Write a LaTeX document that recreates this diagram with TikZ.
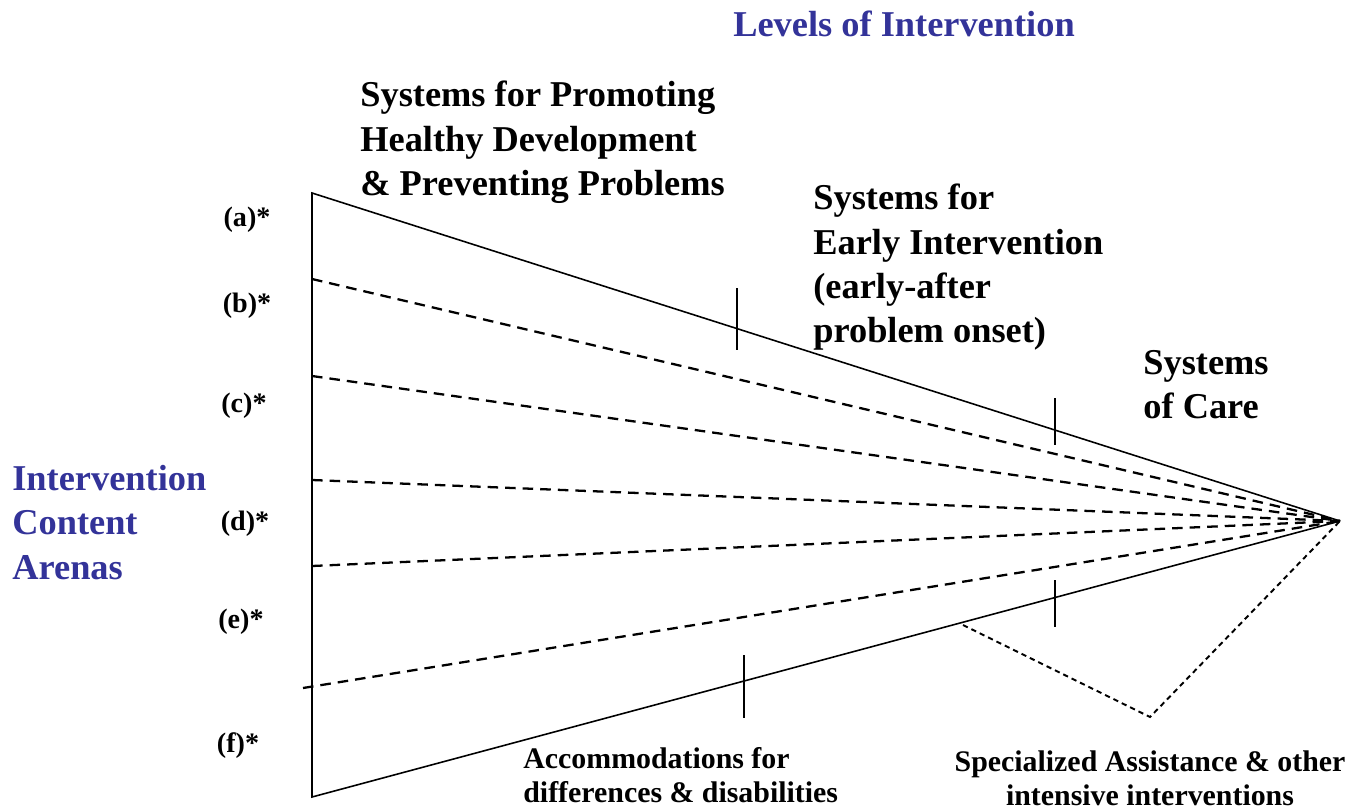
\documentclass[tikz,border=0pt]{standalone}
\usepackage{fontspec}
\setmainfont{Liberation Serif}
\usetikzlibrary{positioning}
\definecolor{arenaBlue}{RGB}{51,51,153}
\tikzstyle{levelText} = [font=\fontsize{20.7}{25.2}\selectfont\bfseries, align=left, anchor=north west, inner sep=0pt]
\tikzstyle{blueText} = [levelText, text=arenaBlue]
\tikzstyle{arenaLabel} = [font=\fontsize{16}{19}\selectfont\bfseries, inner sep=0pt]
\tikzstyle{noteText} = [font=\fontsize{17}{19.5}\selectfont\bfseries, align=center, anchor=north, inner sep=0pt]
\tikzstyle{edge} = [line width=0.9pt]
\tikzstyle{arenaLine} = [line width=1.3pt, dash pattern=on 6pt off 4pt]
\tikzstyle{careLine} = [line width=1.1pt, dash pattern=on 3pt off 2.3pt]
\tikzstyle{tick} = [line width=0.9pt]

\begin{document}
\begin{tikzpicture}[x=0.02cm,y=-0.02cm]
\useasboundingbox (0,0) rectangle (1364,811);

% wedge corners
\coordinate (apex) at (1340,521);
\coordinate (topLeft) at (312,193);
\coordinate (bottomLeft) at (312,797);

% headings
\node (levels) [blueText, anchor=center] at (904,24) {Levels of Intervention};
\node (promoting) [levelText] at (360,81) {Systems for Promoting\\Healthy Development\\\& Preventing Problems};
\node (early) [levelText] at (813,184) {Systems for\\Early Intervention\\(early-after\\problem onset)};
\node (care) [levelText] at (1143,350) {Systems\\of Care};
\node (arenas) [blueText] at (12,465) {Intervention\\Content\\Arenas};

% content arenas
\node (arenaA) [arenaLabel] at (247,220) {(a)*};
\node (arenaB) [arenaLabel] at (247,306) {(b)*};
\node (arenaC) [arenaLabel] at (244,406) {(c)*};
\node (arenaD) [arenaLabel] at (245,524) {(d)*};
\node (arenaE) [arenaLabel] at (241,622) {(e)*};
\node (arenaF) [arenaLabel] at (238,746) {(f)*};

% notes at the bottom
\node (accommodations) [noteText, align=left, anchor=north west] at (523,747) {Accommodations for\\differences \& disabilities};
\node (specialized) [noteText] at (1150,750) {Specialized Assistance \& other\\intensive interventions};

% the wedge
\draw [edge] (apex) -- (topLeft) -- (bottomLeft) -- (apex);
\foreach \y in {279,376,480,566}
  \draw [arenaLine] (312,\y) -- (apex);
\draw [arenaLine] (303,688) -- (apex);

% level boundaries
\draw [tick] (737,288) -- (737,350);
\draw [tick] (1055,398) -- (1055,445);
\draw [tick] (1055,580) -- (1055,627);
\draw [tick] (744,655) -- (744,718);

% intensive interventions
\coordinate (careTurn) at (1150,717);
\draw [careLine] (963,625) -- (careTurn) -- (apex);
\end{tikzpicture}
\end{document}
